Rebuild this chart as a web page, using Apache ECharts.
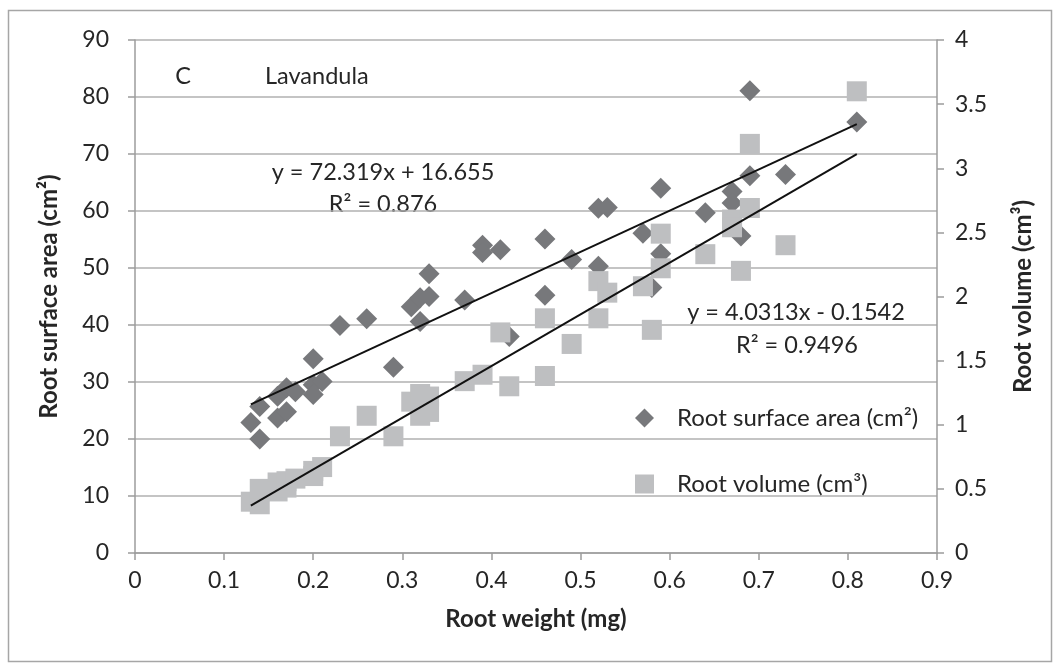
<!DOCTYPE html>
<html>
<head>
<meta charset="utf-8">
<title>Lavandula</title>
<script src="https://cdn.jsdelivr.net/npm/echarts@6/dist/echarts.min.js"></script>
<style>
  html, body { margin: 0; padding: 0; background: #fff; }
  #chart { width: 1061px; height: 671px; }
</style>
</head>
<body>
<div id="chart"></div>
<script>
// root weight (mg) vs root surface area (cm²), left axis
var surfaceData = [
  [0.13, 22.9], [0.14, 25.7], [0.14, 20.0], [0.16, 23.7], [0.16, 27.5],
  [0.17, 29.0], [0.17, 24.8], [0.18, 28.3], [0.20, 34.1], [0.20, 29.5],
  [0.20, 27.8], [0.21, 30.1], [0.23, 39.9], [0.26, 41.1], [0.29, 32.6],
  [0.31, 43.2], [0.32, 44.8], [0.32, 40.6], [0.33, 45.0], [0.33, 49.0],
  [0.37, 44.4], [0.39, 54.0], [0.39, 52.7], [0.41, 53.2], [0.42, 38.0],
  [0.46, 55.1], [0.46, 45.2], [0.49, 51.5], [0.52, 60.5], [0.52, 50.3],
  [0.53, 60.6], [0.57, 56.1], [0.58, 46.6], [0.59, 52.5], [0.59, 64.0],
  [0.64, 59.7], [0.67, 63.4], [0.67, 61.4], [0.68, 55.6], [0.69, 81.1],
  [0.69, 66.2], [0.73, 66.4], [0.81, 75.6]
];
// root weight (mg) vs root volume (cm³), right axis
var volumeData = [
  [0.13, 0.40], [0.14, 0.38], [0.14, 0.50], [0.16, 0.55], [0.16, 0.48],
  [0.17, 0.56], [0.17, 0.51], [0.18, 0.58], [0.20, 0.64], [0.20, 0.60],
  [0.21, 0.67], [0.23, 0.91], [0.26, 1.07], [0.29, 0.91], [0.31, 1.18],
  [0.32, 1.24], [0.32, 1.07], [0.33, 1.22], [0.33, 1.10], [0.37, 1.34],
  [0.39, 1.39], [0.41, 1.72], [0.42, 1.30], [0.46, 1.83], [0.46, 1.38],
  [0.49, 1.63], [0.52, 2.12], [0.52, 1.83], [0.53, 2.03], [0.57, 2.08],
  [0.58, 1.74], [0.59, 2.49], [0.59, 2.22], [0.64, 2.33], [0.67, 2.60],
  [0.67, 2.54], [0.68, 2.20], [0.69, 3.19], [0.69, 2.69], [0.73, 2.40],
  [0.81, 3.60]
];
// linear trend lines (end points)
var surfaceTrend = [[0.13, 26.06], [0.81, 75.23]];
var volumeTrend = [[0.13, 0.370], [0.81, 3.111]];

var seriesNames = ['Root surface area (cm²)', 'Root volume (cm³)'];
var surfaceEq = ['y = 72.319x + 16.655', 'R² = 0.876'];
var volumeEq = ['y = 4.0313x - 0.1542', 'R² = 0.9496'];

var FONT = 'Lato';
var TXT = '#262626';
var GRID = '#b0b0b0';
var AXIS = '#9c9c9c';

var chart = echarts.init(document.getElementById('chart'));

function label(x, y, text, align) {
  return {
    type: 'text', x: x, y: y, silent: true,
    style: { text: text, fill: TXT, font: '23.5px ' + FONT, align: align || 'center', verticalAlign: 'middle' }
  };
}

var titleStyle = { fontSize: 24, fontWeight: 'bold', color: TXT, fontFamily: FONT };

var option = {
  backgroundColor: '#fff',
  animation: false,
  textStyle: { fontFamily: FONT, color: TXT },
  grid: { left: 135, right: 124, top: 40, bottom: 118, outerBoundsMode: 'none' },
  legend: {
    orient: 'vertical', left: 630, top: 400, itemGap: 40,
    itemWidth: 19, itemHeight: 19,
    textStyle: { fontSize: 24, lineHeight: 26, color: TXT, fontFamily: FONT, padding: [0, 0, 0, 18] },
    data: [
      { name: seriesNames[0], icon: 'diamond' },
      { name: seriesNames[1], icon: 'rect' }
    ]
  },
  xAxis: {
    type: 'value', min: 0, max: 0.9, interval: 0.1,
    name: 'Root weight (mg)', nameLocation: 'middle', nameGap: 54,
    nameTextStyle: titleStyle,
    axisLine: { show: true, lineStyle: { color: AXIS, width: 1.5 } },
    axisTick: { show: true, inside: false, length: 7, lineStyle: { color: AXIS, width: 1.5 } },
    axisLabel: { fontSize: 23, color: TXT, margin: 16, formatter: function (v) { return +v.toFixed(1) + ''; } },
    splitLine: { show: false }
  },
  yAxis: [
    {
      type: 'value', min: 0, max: 90, interval: 10,
      name: 'Root surface area (cm²)', nameLocation: 'middle', nameGap: 74,
      nameTextStyle: titleStyle,
      axisLine: { show: true, lineStyle: { color: AXIS, width: 1.5 } },
      axisTick: { show: true, inside: false, length: 7, lineStyle: { color: AXIS, width: 1.5 } },
      axisLabel: { fontSize: 23, color: TXT, margin: 26 },
      splitLine: { show: true, lineStyle: { color: GRID, width: 1.5 } }
    },
    {
      type: 'value', min: 0, max: 4, interval: 0.5, position: 'right',
      name: 'Root volume (cm³)', nameLocation: 'middle', nameGap: 74,
      nameTextStyle: titleStyle,
      axisLine: { show: true, lineStyle: { color: AXIS, width: 1.5 } },
      axisTick: { show: true, inside: false, length: 7, lineStyle: { color: AXIS, width: 1.5 } },
      axisLabel: { fontSize: 23, color: TXT, margin: 18 },
      splitLine: { show: false }
    }
  ],
  series: [
    {
      name: seriesNames[0], type: 'scatter', yAxisIndex: 0,
      symbol: 'diamond', symbolSize: 21,
      itemStyle: { color: '#77787b', opacity: 1 },
      data: surfaceData, z: 2
    },
    {
      name: seriesNames[1], type: 'scatter', yAxisIndex: 1,
      symbol: 'rect', symbolSize: 20,
      itemStyle: { color: '#bebfc1', opacity: 1 },
      data: volumeData, z: 3
    },
    {
      name: 'trend-surface', type: 'line', yAxisIndex: 0,
      data: surfaceTrend, showSymbol: false, symbol: 'none', silent: true,
      lineStyle: { color: '#111', width: 2 }, z: 4
    },
    {
      name: 'trend-volume', type: 'line', yAxisIndex: 1,
      data: volumeTrend, showSymbol: false, symbol: 'none', silent: true,
      lineStyle: { color: '#111', width: 2 }, z: 4
    }
  ],
  graphic: [
    {
      type: 'rect', silent: true, z: -1,
      shape: { x: 8.5, y: 10.5, width: 1043, height: 651 },
      style: { fill: 'none', stroke: '#a6a6a6', lineWidth: 1.5 }
    },
    label(183, 76, 'C'),
    label(265, 76, 'Lavandula', 'left'),
    label(383, 172, surfaceEq[0]),
    label(383, 204, surfaceEq[1]),
    label(796, 312, volumeEq[0]),
    label(797, 345, volumeEq[1])
  ]
};

chart.setOption(option);
</script>
</body>
</html>
